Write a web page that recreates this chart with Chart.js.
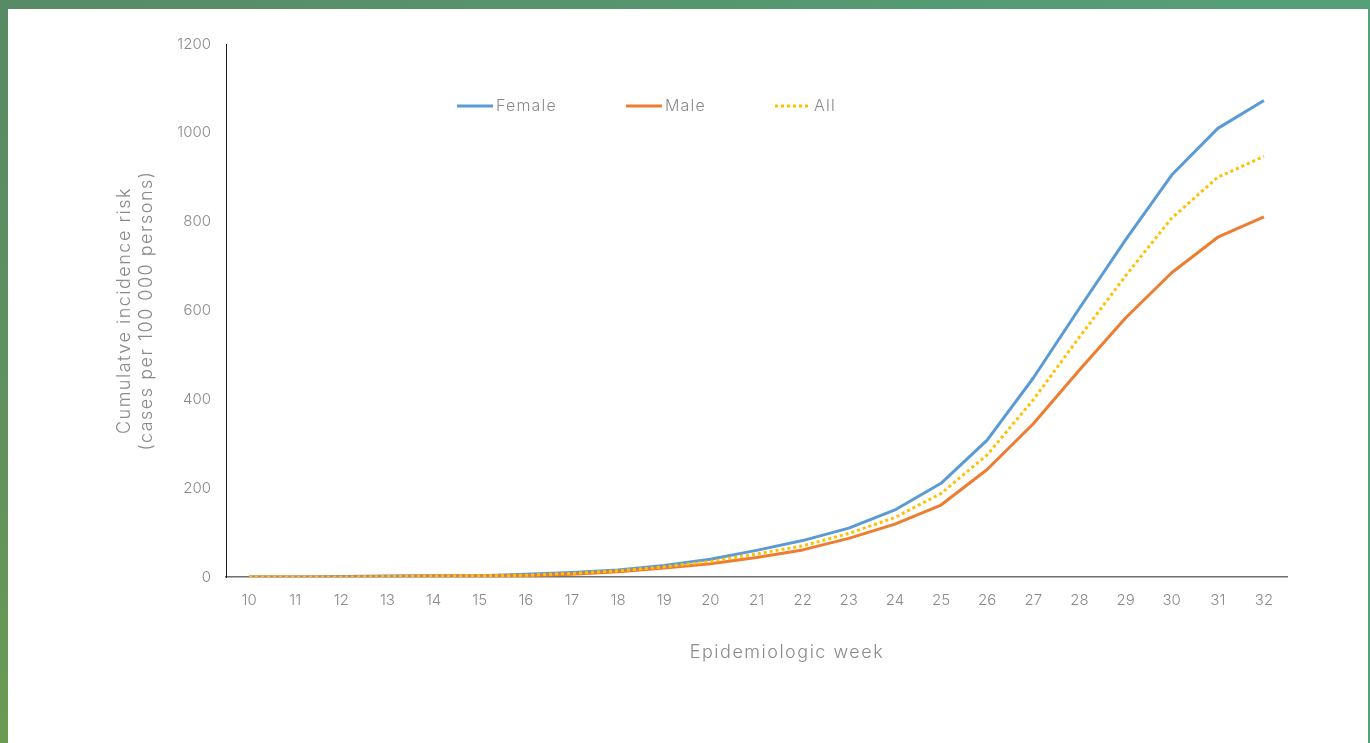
<!DOCTYPE html>
<html>
<head>
<meta charset="utf-8">
<title>Cumulative incidence risk by epidemiologic week</title>
<script src="https://cdn.jsdelivr.net/npm/chart.js@4/dist/chart.umd.min.js"></script>
<style>
  html, body { margin: 0; padding: 0; width: 1370px; height: 743px; overflow: hidden; }
  body { background: linear-gradient(90deg, #588a66 0%, #56966f 50%, #54a078 100%); position: relative; }
  .frame-left { position: absolute; left: 0; top: 0; width: 8px; height: 743px;
    background: linear-gradient(180deg, #588a66 0%, #5f9060 50%, #6a9a52 100%); }
  .panel { position: absolute; left: 8px; top: 9px; width: 1360px; height: 734px; background: #ffffff; }
  #chart { position: absolute; left: 0; top: 0; }
</style>
</head>
<body>
<div class="frame-left"></div>
<div class="panel"></div>
<canvas id="chart" width="1370" height="743"></canvas>
<script>
// Epidemiologic weeks on the horizontal axis
const weeks = ['10','11','12','13','14','15','16','17','18','19','20','21','22','23','24','25','26','27','28','29','30','31','32'];

// Cumulative incidence risk, cases per 100 000 persons
const female = [0, 0, 1, 2, 3, 3, 6, 10, 16, 26, 40, 60, 82, 110, 151, 211, 308, 448, 605, 759, 905, 1010, 1073];
const male   = [0, 0, 0, 1, 2, 2, 3, 6, 12, 20, 30, 44, 61, 87, 119, 162, 242, 345, 466, 583, 685, 765, 811];
const all    = [0, 0, 0, 1, 2, 3, 4, 8, 14, 23, 35, 52, 70, 98, 134, 188, 275, 399, 540, 678, 808, 900, 947];

const yTicks = [0, 200, 400, 600, 800, 1000, 1200];

const FONT = 'Inter, "Open Sans", sans-serif';
const GREY = '#8a8a8a';

// Legend drawn inside the plot area, plus both axis titles
const decorations = {
  id: 'decorations',
  afterDraw(chart) {
    const ctx = chart.ctx;
    const area = chart.chartArea;
    ctx.save();
    ctx.font = '300 16px ' + FONT;
    ctx.letterSpacing = '1.2px';
    ctx.fillStyle = GREY;
    ctx.textBaseline = 'middle';
    ctx.textAlign = 'left';
    let x = area.left + 231;
    const y = area.top + 62;
    chart.data.datasets.forEach(ds => {
      ctx.save();
      ctx.strokeStyle = ds.borderColor;
      ctx.lineWidth = 3;
      ctx.setLineDash(ds.borderDash || []);
      ctx.beginPath();
      ctx.moveTo(x, y);
      ctx.lineTo(x + 36, y);
      ctx.stroke();
      ctx.restore();
      ctx.fillText(ds.label, x + 39, y);
      x += 39 + ctx.measureText(ds.label).width + 69;
    });

    // horizontal axis title
    ctx.font = '300 18px ' + FONT;
    ctx.letterSpacing = '1.5px';
    ctx.textAlign = 'center';
    ctx.fillText('Epidemiologic week', 787, 653);

    // vertical axis title, two lines
    const cy = (area.top + area.bottom) / 2;
    ctx.translate(136, cy);
    ctx.rotate(-Math.PI / 2);
    ctx.fillText('Cumulatve incidence risk', 0, -11);
    ctx.fillText('(cases per 100 000 persons)', 0, 11);
    ctx.restore();
  }
};

new Chart(document.getElementById('chart'), {
  type: 'line',
  data: {
    labels: weeks,
    datasets: [
      { label: 'Female', data: female, borderColor: '#5b9bd5', backgroundColor: '#5b9bd5', borderWidth: 3, order: 2 },
      { label: 'Male', data: male, borderColor: '#ed7d31', backgroundColor: '#ed7d31', borderWidth: 3, order: 1 },
      { label: 'All', data: all, borderColor: '#ffc000', backgroundColor: '#ffc000', borderWidth: 3, borderDash: [3, 3], order: 0 }
    ]
  },
  options: {
    responsive: false,
    animation: false,
    devicePixelRatio: 1,
    elements: { point: { radius: 0, hoverRadius: 0 }, line: { tension: 0, borderJoinStyle: 'round' } },
    layout: { padding: { left: 0, top: 44, right: 83, bottom: 0 } },
    plugins: { legend: { display: false }, tooltip: { enabled: false } },
    scales: {
      x: {
        offset: true,
        grid: { display: false, drawTicks: false },
        border: { display: true, color: '#6e6e6e', width: 1.5 },
        ticks: { color: GREY, font: { family: FONT, size: 15, weight: 300 }, padding: 14, maxRotation: 0, autoSkip: false },
        afterFit(scale) { scale.height = 166; }
      },
      y: {
        min: 0,
        max: 1200,
        afterBuildTicks(scale) { scale.ticks = yTicks.map(v => ({ value: v })); },
        grid: { display: false, drawTicks: false },
        border: { display: true, color: '#1a1a1a', width: 1 },
        ticks: {
          color: GREY,
          font: { family: FONT, size: 15, weight: 300 },
          padding: 15,
          callback: v => String(v)
        },
        afterFit(scale) { scale.width = 226; }
      }
    }
  },
  plugins: [decorations]
});
</script>
</body>
</html>
